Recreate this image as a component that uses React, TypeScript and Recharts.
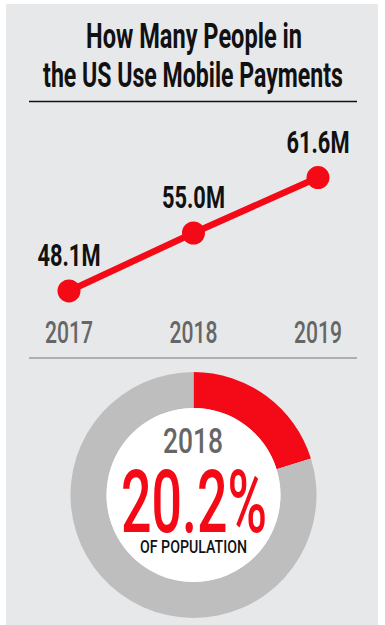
import { Cell, LabelList, Line, LineChart, Pie, PieChart, XAxis, YAxis } from "recharts";

// values
const YEARS = ["2017", "2018", "2019"];
const USERS_M = [48.1, 55.0, 61.6];
const SHARE_YEAR = "2018";
const SHARE_PCT = 20.2;
const SHARE_SLICES = [
  { name: "Use mobile payments", value: 20.2 },
  { name: "Rest of population", value: 79.8 },
];

const RED = "#f40a16";
const RING_GRAY = "#bebebe";
const PANEL = "#e7e8ea";
const FONT = "Roboto";

const lineData = YEARS.map((year, i) => ({ year, users: USERS_M[i] }));

const measureCtx =
  typeof document !== "undefined"
    ? document.createElement("canvas").getContext("2d")
    : null;

function naturalWidth(text: string, size: number, weight: number) {
  if (!measureCtx) return text.length * size * 0.55;
  measureCtx.font = `${weight} ${size}px ${FONT}`;
  return measureCtx.measureText(text).width;
}

// squeeze text horizontally so Roboto looks like the condensed original
function Squeezed({
  x,
  y,
  width,
  size,
  weight = 700,
  fill = "#111",
  children,
}: {
  x: number;
  y: number;
  width: number;
  size: number;
  weight?: number;
  fill?: string;
  children: string;
}) {
  const sx = width / naturalWidth(children, size, weight);
  return (
    <text
      transform={`translate(${x} ${y}) scale(${sx} 1)`}
      textAnchor="middle"
      fontFamily={FONT}
      fontSize={size}
      fontWeight={weight}
      fill={fill}
    >
      {children}
    </text>
  );
}

const PointLabel = (props: any) => {
  const { x, y, value } = props;
  return (
    <Squeezed x={x} y={y - 25} width={63} size={32}>
      {`${Number(value).toFixed(1)}M`}
    </Squeezed>
  );
};

const YearTick = (props: any) => {
  const { x, y, payload } = props;
  return (
    <Squeezed x={x} y={y - 24} width={48} size={32} weight={500} fill="#666">
      {payload.value}
    </Squeezed>
  );
};

export default function App() {
  return (
    <div
      style={{
        position: "absolute",
        left: 0,
        top: 0,
        width: 385,
        height: 625,
        background: "#fff",
        overflow: "hidden",
      }}
    >
      <div
        style={{
          position: "absolute",
          left: 6,
          top: 4,
          width: 372,
          height: 625,
          background: PANEL,
        }}
      />

      {/* title */}
      <svg
        width={385}
        height={110}
        style={{ position: "absolute", left: 0, top: 0 }}
      >
        <Squeezed x={194} y={48} width={216} size={35} weight={700}>
          How Many People in
        </Squeezed>
        <Squeezed x={193} y={87} width={300} size={35} weight={700}>
          the US Use Mobile Payments
        </Squeezed>
        <line x1={29} x2={357} y1={101.5} y2={101.5} stroke="#111" strokeWidth={1.5} />
      </svg>

      {/* line chart */}
      <div style={{ position: "absolute", left: 0, top: 0 }}>
        <LineChart
          width={385}
          height={399}
          data={lineData}
          margin={{ top: 107, right: 67, bottom: 0, left: 69 }}
        >
          <XAxis
            dataKey="year"
            axisLine={false}
            tickLine={false}
            height={40}
            tick={<YearTick />}
            interval={0}
          />
          <YAxis hide domain={[40, 70]} />
          <Line
            type="linear"
            dataKey="users"
            stroke={RED}
            strokeWidth={6.5}
            dot={{ r: 11.5, fill: RED, stroke: "none" }}
            activeDot={false}
            isAnimationActive={false}
          >
            <LabelList dataKey="users" content={<PointLabel />} />
          </Line>
        </LineChart>
      </div>

      <svg
        width={385}
        height={10}
        style={{ position: "absolute", left: 0, top: 353 }}
      >
        <line x1={29} x2={357} y1={5} y2={5} stroke="#9c9c9c" strokeWidth={1.5} />
      </svg>

      {/* donut */}
      <div style={{ position: "absolute", left: 0, top: 370 }}>
        <PieChart width={385} height={250} margin={{ top: 0, right: 0, bottom: 0, left: 0 }}>
          <Pie
            data={SHARE_SLICES}
            dataKey="value"
            cx={193.5}
            cy={125}
            innerRadius={87}
            outerRadius={123}
            startAngle={90}
            endAngle={-270}
            stroke="none"
            isAnimationActive={false}
          >
            <Cell fill={RED} />
            <Cell fill={RING_GRAY} />
          </Pie>
          <Pie
            data={[{ name: "center", value: 1 }]}
            dataKey="value"
            cx={193.5}
            cy={125}
            innerRadius={0}
            outerRadius={87}
            stroke="none"
            fill="#fff"
            isAnimationActive={false}
          />
        </PieChart>
      </div>

      <svg
        width={385}
        height={250}
        style={{ position: "absolute", left: 0, top: 370 }}
      >
        <Squeezed x={193} y={83} width={60} size={36} weight={500} fill="#666">
          {SHARE_YEAR}
        </Squeezed>
        <Squeezed x={194} y={162} width={146} size={88} weight={500} fill={RED}>
          {`${SHARE_PCT.toFixed(1)}%`}
        </Squeezed>
        <Squeezed x={193.5} y={183} width={107} size={18} weight={500} fill="#111">
          OF POPULATION
        </Squeezed>
      </svg>
    </div>
  );
}
